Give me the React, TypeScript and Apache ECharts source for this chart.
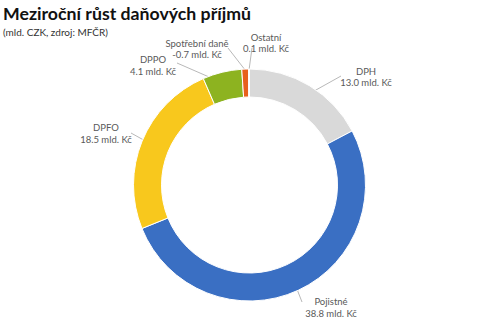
import React, { useEffect, useRef } from "react";
import * as echarts from "echarts";

const titleText = "Meziroční růst daňových příjmů";
const subtitleText = "(mld. CZK, zdroj: MFČR)";
const categories = ["DPH", "Pojistné", "DPFO", "DPPO", "Spotřební daně", "Ostatní"];
const values = [13.0, 38.8, 18.5, 4.1, -0.7, 0.1];
const unit = "mld. Kč";

const colors = ["#D9D9D9", "#3A6FC3", "#F8C81D", "#8DB320", "#E8601C", "#D0D0D0"];
const CX = 249.5;
const CY = 185;
const R0 = 88;
const R1 = 116;
// label block centre and leader line anchor (near label), leader start radius
const labelLayoutSpec = [
  { x: 366, y: 77, end: [341, 76], r: 102 },
  { x: 331, y: 307.5, end: [302, 302], r: 102 },
  { x: 106, y: 133.5, end: [131, 133], r: 102 },
  { x: 153, y: 65.5, end: [177, 63], r: 104 },
  { x: 197, y: 49, end: [228, 48], r: 115 },
  { x: 266, y: 43, end: [252, 48], r: 115 },
];

const fontFamily = "Lato, 'Open Sans', sans-serif";

export default function App() {
  const ref = useRef<HTMLDivElement>(null);
  useEffect(() => {
    if (!ref.current) return;
    const chart = echarts.init(ref.current, null, { renderer: "svg" });
    const absVals = values.map((v) => Math.abs(v));
    const total = absVals.reduce((a, b) => a + b, 0);
    const midAngles: number[] = [];
    let acc = 0;
    absVals.forEach((v) => {
      midAngles.push(((acc + v / 2) / total) * Math.PI * 2);
      acc += v;
    });
    chart.setOption({
      animation: false,
      backgroundColor: "#ffffff",
      title: [
        {
          text: titleText,
          left: 3,
          top: 2,
          padding: 0,
          textStyle: {
            fontFamily,
            fontSize: 17.7,
            fontWeight: "bold",
            color: "#111111",
            lineHeight: 23,
          },
        },
        {
          text: subtitleText,
          left: 3,
          top: 25,
          padding: 0,
          textStyle: {
            fontFamily,
            fontSize: 10,
            fontWeight: "normal",
            color: "#333333",
            lineHeight: 14,
          },
        },
      ],
      series: [
        {
          type: "pie",
          center: [CX, CY],
          radius: [R0, R1],
          startAngle: 90,
          clockwise: true,
          avoidLabelOverlap: false,
          itemStyle: { borderColor: "#ffffff", borderWidth: 1 },
          label: {
            show: true,
            position: "outside",
            fontFamily,
            fontSize: 9.5,
            lineHeight: 11.5,
            color: "#595959",
            align: "center",
            formatter: (p: any) =>
              `${categories[p.dataIndex]}\n${values[p.dataIndex].toFixed(1)} ${unit}`,
          },
          labelLine: {
            show: true,
            lineStyle: { color: "#A6A6A6", width: 0.8 },
          },
          labelLayout: (p: any) => {
            const s = labelLayoutSpec[p.dataIndex];
            const a = midAngles[p.dataIndex];
            const sx = CX + Math.sin(a) * s.r;
            const sy = CY - Math.cos(a) * s.r;
            return {
              x: s.x,
              y: s.y,
              align: "center",
              verticalAlign: "middle",
              labelLinePoints: [
                [sx, sy],
                [s.end[0], s.end[1]],
                [s.end[0], s.end[1]],
              ],
            };
          },
          data: categories.map((c, i) => ({
            name: c,
            value: absVals[i],
            itemStyle: { color: colors[i] },
          })),
        },
      ],
    });
    return () => chart.dispose();
  }, []);
  return (
    <div
      ref={ref}
      style={{ position: "fixed", left: 0, top: 0, width: 500, height: 326 }}
    />
  );
}
